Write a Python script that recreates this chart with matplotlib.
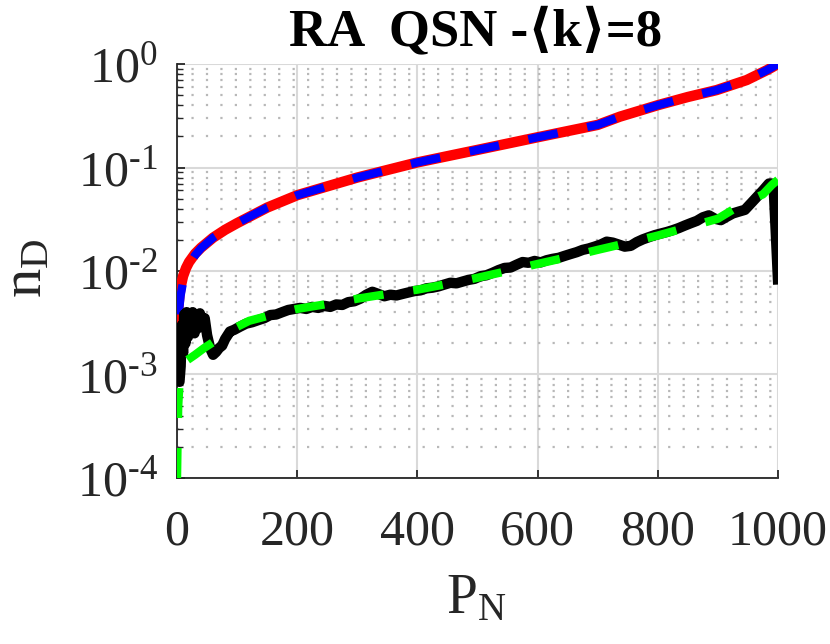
import numpy as np
import matplotlib
matplotlib.use('Agg')
import matplotlib.pyplot as plt
from matplotlib.ticker import LogLocator, NullFormatter

plt.rcParams['font.family'] = ['Liberation Serif', 'DejaVu Serif']
plt.rcParams['mathtext.fontset'] = 'custom'
plt.rcParams['mathtext.rm'] = 'Liberation Serif'
plt.rcParams['mathtext.it'] = 'Liberation Serif:italic'
plt.rcParams['mathtext.bf'] = 'Liberation Serif:bold'

# %% curves
# upper pair (red solid + blue dashed)
red_P = [0, 1, 2, 4, 6, 10, 15, 20, 30, 40, 60, 80, 100, 150, 200, 300, 400, 500, 600,
         700, 737, 800, 850, 898, 948, 982, 1000]
red_n = [2.0e-3, 3.2e-3, 4.3e-3, 5.8e-3, 7.0e-3, 8.9e-3, 1.07e-2, 1.22e-2, 1.47e-2, 1.68e-2,
         2.1e-2, 2.5e-2, 2.9e-2, 4.1e-2, 5.4e-2, 8.0e-2, 0.112, 0.148, 0.196,
         0.258, 0.31, 0.40, 0.48, 0.56, 0.70, 0.875, 1.0]

blue_P = [0, 1, 2, 4, 6, 10, 15, 20, 30, 40, 60, 80, 100, 150, 200, 300, 400, 500, 600,
          700, 737, 800, 850, 898, 948, 982, 1000]
blue_n = [1.0e-3, 2.0e-3, 3.0e-3, 4.5e-3, 5.8e-3, 7.8e-3, 9.8e-3, 1.15e-2, 1.42e-2, 1.66e-2,
          2.1e-2, 2.5e-2, 2.9e-2, 4.1e-2, 5.4e-2, 8.0e-2, 0.112, 0.148, 0.196,
          0.258, 0.31, 0.40, 0.48, 0.56, 0.70, 0.875, 1.0]

# lower pair (black simulation + green dashed)
blk_P = [0, 2, 4, 6, 8, 10, 12, 14, 16, 18, 20, 23, 26, 29, 32, 35, 38, 42, 46, 50,
         55, 60, 65, 70, 75, 80, 88, 95, 105, 115, 125, 135, 145, 155, 165, 175, 185, 195,
         205, 215, 225, 235, 245, 255, 265, 275, 285, 295, 305, 315, 325, 335, 345, 355,
         365, 375, 385, 395, 405, 415, 425, 435, 445, 455, 465, 475, 485, 495, 505, 515,
         525, 535, 545, 555, 565, 575, 585, 595, 605, 615, 625, 635, 645, 655, 665, 675,
         685, 695, 705, 715, 725, 735, 745, 755, 765, 775, 785, 795, 805, 815, 825, 835,
         845, 855, 865, 875, 885, 895, 905, 915, 925, 935, 945, 955, 965, 975, 985, 990,
         993, 1000]
blk_n = [1.3e-3, 9.0e-4, 8.5e-4, 1.2e-3, 3.0e-3, 1.6e-3, 3.8e-3, 2.0e-3, 4.0e-3, 2.3e-3,
         3.7e-3, 2.6e-3, 4.0e-3, 2.5e-3, 3.6e-3, 2.8e-3, 3.9e-3, 3.1e-3, 3.5e-3, 2.4e-3,
         1.8e-3, 1.55e-3, 1.65e-3, 1.8e-3, 1.9e-3, 2.2e-3, 2.6e-3, 2.7e-3, 2.9e-3, 3.1e-3,
         3.2e-3, 3.35e-3, 3.5e-3, 3.75e-3, 3.8e-3, 4.0e-3, 4.2e-3, 4.3e-3,
         4.4e-3, 4.3e-3, 4.5e-3, 4.4e-3, 4.6e-3, 4.5e-3, 4.75e-3, 4.7e-3, 5.0e-3, 5.1e-3,
         5.4e-3, 5.9e-3, 6.3e-3, 6.0e-3, 5.7e-3, 5.9e-3,
         5.8e-3, 6.0e-3, 6.2e-3, 6.4e-3, 6.5e-3, 6.8e-3, 6.9e-3, 7.1e-3, 7.4e-3, 7.7e-3,
         7.6e-3, 7.9e-3, 8.2e-3, 8.4e-3, 8.9e-3, 9.1e-3,
         9.6e-3, 1.02e-2, 1.07e-2, 1.08e-2, 1.15e-2, 1.22e-2, 1.2e-2, 1.25e-2, 1.21e-2,
         1.27e-2, 1.31e-2, 1.34e-2, 1.40e-2, 1.46e-2, 1.52e-2, 1.60e-2,
         1.65e-2, 1.72e-2, 1.8e-2, 1.92e-2, 1.88e-2, 1.8e-2, 1.72e-2, 1.75e-2, 1.9e-2,
         2.02e-2, 2.12e-2, 2.22e-2, 2.3e-2, 2.38e-2, 2.48e-2, 2.6e-2,
         2.75e-2, 2.9e-2, 3.05e-2, 3.3e-2, 3.45e-2, 3.2e-2, 3.1e-2, 3.35e-2, 3.6e-2,
         3.75e-2, 3.9e-2, 4.5e-2, 5.2e-2, 6.0e-2, 7.0e-2, 7.0e-2,
         6.2e-2, 8.3e-3]

grn_P = [0, 1, 2, 4, 7, 10, 15, 30, 45, 60, 90, 120, 160, 200, 250, 300, 350, 400, 450,
         500, 550, 600, 650, 700, 750, 800, 850, 900, 942, 975, 990, 1000]
grn_n = [1.0e-4, 2.5e-4, 5.0e-4, 8.0e-4, 1.0e-3, 1.15e-3, 1.35e-3, 1.55e-3, 1.8e-3, 2.05e-3,
         2.7e-3, 3.3e-3, 3.8e-3, 4.3e-3, 4.8e-3, 5.4e-3, 6.0e-3, 6.6e-3, 7.5e-3,
         8.6e-3, 1.0e-2, 1.17e-2, 1.36e-2, 1.6e-2, 1.87e-2, 2.2e-2, 2.65e-2, 3.2e-2,
         4.5e-2, 5.5e-2, 6.8e-2, 7.6e-2]

x_ticks = [0, 200, 400, 600, 800, 1000]
y_ticks = [1e-4, 1e-3, 1e-2, 1e-1, 1e0]
y_ticklabels = [r'$\mathregular{10^{\text{-}4}}$', r'$\mathregular{10^{\text{-}3}}$',
                r'$\mathregular{10^{\text{-}2}}$', r'$\mathregular{10^{\text{-}1}}$',
                r'$\mathregular{10^{0}}$']

# %% figure
fig = plt.figure(figsize=(8.3, 6.44), dpi=100)
ax = fig.add_axes([0.2133, 0.2578, 0.724, 0.6428])

ax.plot(red_P, red_n, color='#ff0000', lw=7.5, solid_capstyle='butt', zorder=3)
ax.plot(blue_P, blue_n, color='#0000ff', lw=6, linestyle=(0, (3.6, 3.6)), zorder=4)
ax.plot(blk_P, blk_n, color='k', lw=7.5, solid_joinstyle='round', zorder=5)
ax.plot(grn_P, grn_n, color='#00ff00', lw=6, linestyle=(0, (3.6, 3.6)), zorder=6)

ax.set_yscale('log')
ax.set_xlim(0, 1000)
ax.set_ylim(1e-4, 1e0)
ax.set_xticks(x_ticks)
ax.set_yticks(y_ticks)
ax.set_yticklabels(y_ticklabels)
ax.yaxis.set_minor_locator(LogLocator(base=10, subs=np.arange(2, 10)))
ax.yaxis.set_minor_formatter(NullFormatter())

ax.grid(which='major', color='#d9d9d9', lw=1.5, linestyle='-')
ax.grid(which='minor', axis='y', color='#b8b8b8', lw=1.6, linestyle=(0, (1, 5.5)))
ax.set_axisbelow(True)

ax.spines['top'].set_visible(False)
ax.spines['right'].set_visible(False)
ax.spines['left'].set_linewidth(1.3)
ax.spines['bottom'].set_linewidth(1.3)
ax.spines['left'].set_color('#262626')
ax.spines['bottom'].set_color('#262626')

ax.tick_params(which='major', direction='in', length=6, width=1.3, labelsize=36,
               colors='#262626', labelcolor='#262626')
ax.tick_params(axis='x', pad=22)
ax.tick_params(axis='y', pad=14)
ax.tick_params(which='minor', direction='in', length=4, width=1.0, colors='#262626')
ax.tick_params(axis='x', which='minor', bottom=False)

fig.text(0.5735, 1 - 45 / 644, 'RA  QSN -\u27e8k\u27e9=8',
         ha='center', va='baseline', fontsize=38, fontweight='bold',
         family=['Liberation Serif', 'DejaVu Serif', 'DejaVu Sans'])
fig.text(0.5735, 1 - 613 / 644, r'$\mathregular{P_N}$', ha='center', va='baseline',
         fontsize=40, color='#262626')
fig.text(0.033, 1 - 268 / 644, r'$\mathregular{n_D}$', ha='center', va='center',
         rotation=90, fontsize=42, color='#262626')

plt.savefig('out.png', dpi=100)
